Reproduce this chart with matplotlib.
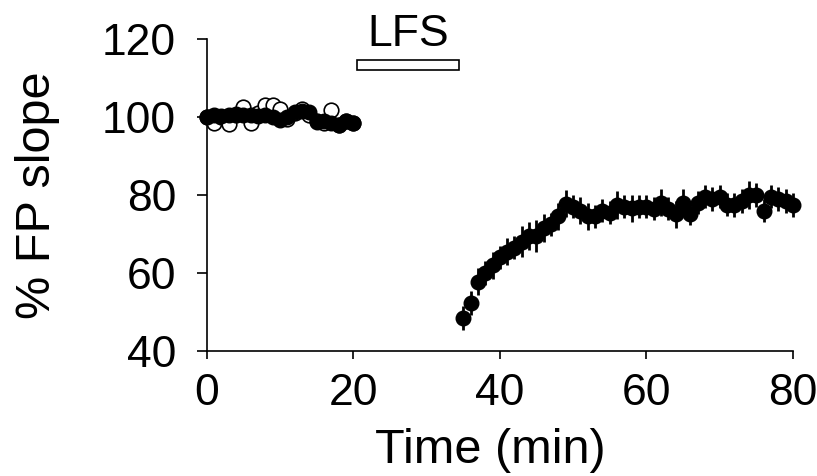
import numpy as np
import matplotlib
matplotlib.use('Agg')
import matplotlib.pyplot as plt
from matplotlib.patches import Rectangle

plt.rcParams['font.family'] = ['Liberation Sans', 'DejaVu Sans']

# baseline (0-20 min)
t_base = np.arange(0, 21)
base_filled = [100, 100.5, 100.3, 100.5, 100.8, 100.5, 100.5, 100.3, 100.5, 100, 99.3,
               100, 101.3, 101.5, 101.3, 98.8, 99, 98.5, 98, 99, 98.5]
base_filled_err = [0.8] * 21
base_open = [100, 98.5, 100, 98.3, 100.5, 102.5, 98.5, 101, 103, 103, 102,
             99.5, 101, 102, 100.5, 99, 98.5, 101.8, 98, 99, 98.5]

# after LFS (35-80 min)
t_post = np.arange(35, 81)
post = [48.5, 52.3, 57.8, 60, 62, 64, 65.5, 66.5, 68, 69.5,
        69.5, 71.5, 72.5, 74.5, 77.8, 77, 76, 74.5, 74.5, 76,
        75.5, 77.4, 77, 76.6, 77, 77, 76.5, 78, 76.5, 75,
        78, 75.2, 78, 79.6, 79, 79.6, 77.5, 77.4, 78.5, 80,
        80, 76, 79.6, 79, 78.5, 77.4]
post_err = [3, 3, 3.5, 3, 3.5, 3, 3.5, 3, 4, 3.5,
            4, 3.5, 3, 3.5, 3.5, 3, 3.5, 3.5, 3, 3,
            3, 3.5, 3, 3.5, 3, 3, 3, 3.5, 3, 3.5,
            3.5, 3, 3, 3, 3, 3, 3, 3, 3, 3.5,
            3, 3, 3, 3, 3, 3]

lfs_start = 20.5
lfs_end = 34.4

fig = plt.figure(figsize=(8.17, 4.76), dpi=100)
ax = fig.add_axes([0.253, 0.2626, 0.7176, 0.6555])

ax.plot(t_base, base_open, 'o', ms=10.5, mfc='white', mec='black', mew=1.2,
        clip_on=False, zorder=2)
ax.errorbar(t_base, base_filled, yerr=base_filled_err, fmt='o', ms=10.5, color='black',
            elinewidth=2, capsize=0, clip_on=False, zorder=3)
ax.errorbar(t_post, post, yerr=post_err, fmt='o', ms=10.5, color='black',
            elinewidth=2, capsize=0, clip_on=False, zorder=3)

# LFS bar
ax.add_patch(Rectangle((lfs_start, 112), lfs_end - lfs_start, 2.6, facecolor='white',
                       edgecolor='black', lw=1.2, clip_on=False))
ax.text((lfs_start + lfs_end) / 2, 115.8, 'LFS', ha='center', va='bottom', fontsize=32)

ax.set_xlim(0, 80)
ax.set_ylim(40, 120)
ax.set_xticks([0, 20, 40, 60, 80])
ax.set_yticks([40, 60, 80, 100, 120])
ax.spines['top'].set_visible(False)
ax.spines['right'].set_visible(False)
for s in ['left', 'bottom']:
    ax.spines[s].set_linewidth(1.2)
ax.tick_params(axis='y', length=7, width=1.2, labelsize=32, pad=15)
ax.tick_params(axis='x', length=6, width=1.2, labelsize=32, pad=10)

ax.set_xlabel('Time (min)', fontsize=35, labelpad=10, x=0.484)
ax.set_ylabel('% FP slope', fontsize=35, labelpad=30)

fig.savefig('out.png', dpi=100)
